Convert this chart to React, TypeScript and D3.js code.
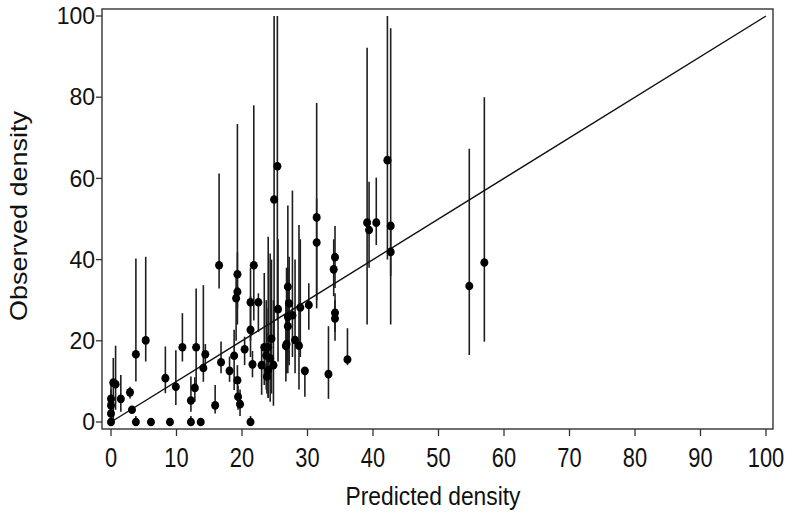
import React from 'react';
import * as d3 from 'd3';

// predicted density, observed density and the interval around each observation
const predicted = [
  0, 0, 0, 0, 0.35, 0.7, 1.5, 2.9, 3.2, 3.8, 5.3, 3.8, 6.1, 9.0, 8.3, 9.9, 10.9, 12.2, 12.8, 13.0,
  14.1, 14.4, 12.2, 13.7, 15.9, 16.8, 16.5, 18.1, 18.8, 19.3, 19.3, 19.3, 19.1, 19.4, 19.7, 20.4,
  21.3, 21.3, 21.3, 21.6, 21.8, 22.5, 23.0, 23.4, 24.0, 23.7, 24.3, 24.5, 24.8, 23.8, 24.0, 24.9,
  25.4, 25.5, 27.0, 27.2, 27.0, 27.7, 27.0, 26.8, 26.7, 28.1, 28.7, 28.9, 30.2, 29.6, 31.4, 31.4,
  33.2, 34.2, 34.0, 34.2, 34.2, 36.1, 39.1, 39.4, 40.5, 42.2, 42.7, 42.7, 54.7, 57.0,
];
const observed = [
  0, 2.1, 4.1, 5.7, 9.7, 9.3, 5.7, 7.3, 3.0, 16.7, 20.1, 0, 0, 0, 10.8, 8.7, 18.4, 5.3, 8.4, 18.4,
  13.3, 16.7, 0, 0, 4.1, 14.7, 38.6, 12.6, 16.3, 10.3, 36.4, 32.1, 30.5, 6.2, 4.4, 17.9,
  0, 29.5, 22.7, 14.2, 38.6, 29.5, 14.0, 18.4, 18.4, 16.4, 15.7, 20.5, 14.0, 11.2, 12.8, 54.8,
  63.0, 27.8, 33.3, 29.2, 25.9, 26.3, 23.6, 19.2, 18.7, 20.2, 18.8, 28.2, 28.8, 12.6, 50.4, 44.2,
  11.8, 40.6, 37.6, 26.9, 25.5, 15.4, 49.1, 47.3, 49.1, 64.5, 48.3, 41.9, 33.5, 39.3,
];
const lower = [
  0, 0, 1, 2, 0, 3, 2.5, 5.8, 3.0, 10, 14.9, 0, 0, 0, 7.1, 4.2, 14.9, 2.5, 5, 8.7,
  9.9, 14, 0, 0, 2.1, 12, 32.9, 9.9, 7.9, 6, 28, 24, 20, 3, 1.5, 14,
  0, 20, 16, 11, 25, 22.2, 6.7, 9.1, 6, 8, 5, 7, 4, 7, 6, 20,
  25, 14.9, 20, 14, 15, 16, 12, 12, 10, 12, 8, 16, 22.7, 6.2, 30, 28,
  5.7, 33, 31, 22.2, 20, 14, 24, 38, 43.6, 40, 24, 36, 16.5, 19.8,
];
const upper = [
  0, 4, 8, 10, 15.8, 18.8, 11.6, 8.7, 3.0, 40.3, 40.7, 1.5, 0, 0, 18.6, 17.7, 26.8, 11.2, 11, 32.9,
  33.7, 19.2, 1.5, 0, 9.1, 19.8, 61.2, 16.1, 22.7, 14, 73.4, 41.8, 36, 9, 8, 21,
  1.5, 38, 31, 17.5, 78, 31.7, 18, 36.7, 45.6, 30, 41.5, 40, 30, 22, 28, 100,
  100, 45, 53.3, 40.7, 38, 57, 35, 38, 30, 40, 48.5, 45, 34.2, 12.6, 78.6, 55,
  23.6, 48.3, 45, 31.7, 30, 23.1, 92.2, 59.2, 60.2, 100, 97, 48, 67.3, 80,
];

const xTicks = [0, 10, 20, 30, 40, 50, 60, 70, 80, 90, 100];
const yTicks = [0, 20, 40, 60, 80, 100];

const App = () => {
  const W = 793;
  const H = 519;
  const frame = { left: 102, right: 773, top: 9, bottom: 429 };

  const x = d3.scaleLinear().domain([0, 100]).range([111, 766]);
  const y = d3.scaleLinear().domain([0, 100]).range([422, 16]);

  const pts = predicted.map((p, i) => ({ p, o: observed[i], lo: lower[i], hi: upper[i] }));
  const diag = d3.line<number>().x(d => x(d)).y(d => y(d))([0, 100]);
  const font = 'Liberation Sans, Arial, sans-serif';

  return (
    <svg width={W} height={H} style={{ position: 'absolute', left: 0, top: 0, background: '#fff' }}>
      <rect x={0} y={0} width={W} height={H} fill="#fff" />

      {/* error bars */}
      {pts.map((d, i) => (
        <line key={'e' + i} x1={x(d.p)} x2={x(d.p)} y1={y(d.lo)} y2={y(d.hi)}
          stroke="#1e1e1e" strokeWidth={1.6} />
      ))}

      {/* 1:1 line */}
      <path d={diag || ''} fill="none" stroke="#111" strokeWidth={1.4} />

      {/* points */}
      {pts.map((d, i) => (
        <ellipse key={'p' + i} cx={x(d.p)} cy={y(d.o)} rx={4} ry={4.3} fill="#000" />
      ))}

      {/* frame */}
      <rect x={frame.left} y={frame.top} width={frame.right - frame.left} height={frame.bottom - frame.top}
        fill="none" stroke="#333" strokeWidth={1.4} />

      {/* x axis */}
      {xTicks.map(t => (
        <g key={'xt' + t}>
          <line x1={x(t)} x2={x(t)} y1={frame.bottom} y2={frame.bottom + 7} stroke="#333" strokeWidth={1.3} />
          <text transform={`translate(${x(t)},467) scale(0.78,1)`} textAnchor="middle"
            fontFamily={font} fontSize={28} fill="#111">{t}</text>
        </g>
      ))}

      {/* y axis */}
      {yTicks.map(t => (
        <g key={'yt' + t}>
          <line x1={frame.left - 6} x2={frame.left} y1={y(t)} y2={y(t)} stroke="#333" strokeWidth={1.3} />
          <text x={95} y={y(t)} dy="0.36em" textAnchor="end"
            fontFamily={font} fontSize={23} fill="#111">{t}</text>
        </g>
      ))}

      <text x={433} y={505} textAnchor="middle" fontFamily={font} fontSize={26}
        textLength={175} lengthAdjust="spacingAndGlyphs" fill="#111">Predicted density</text>
      <text transform="translate(27,216) rotate(-90)" textAnchor="middle" fontFamily={font} fontSize={24}
        textLength={210} lengthAdjust="spacingAndGlyphs" fill="#111">Observed density</text>
    </svg>
  );
};

export default App;
